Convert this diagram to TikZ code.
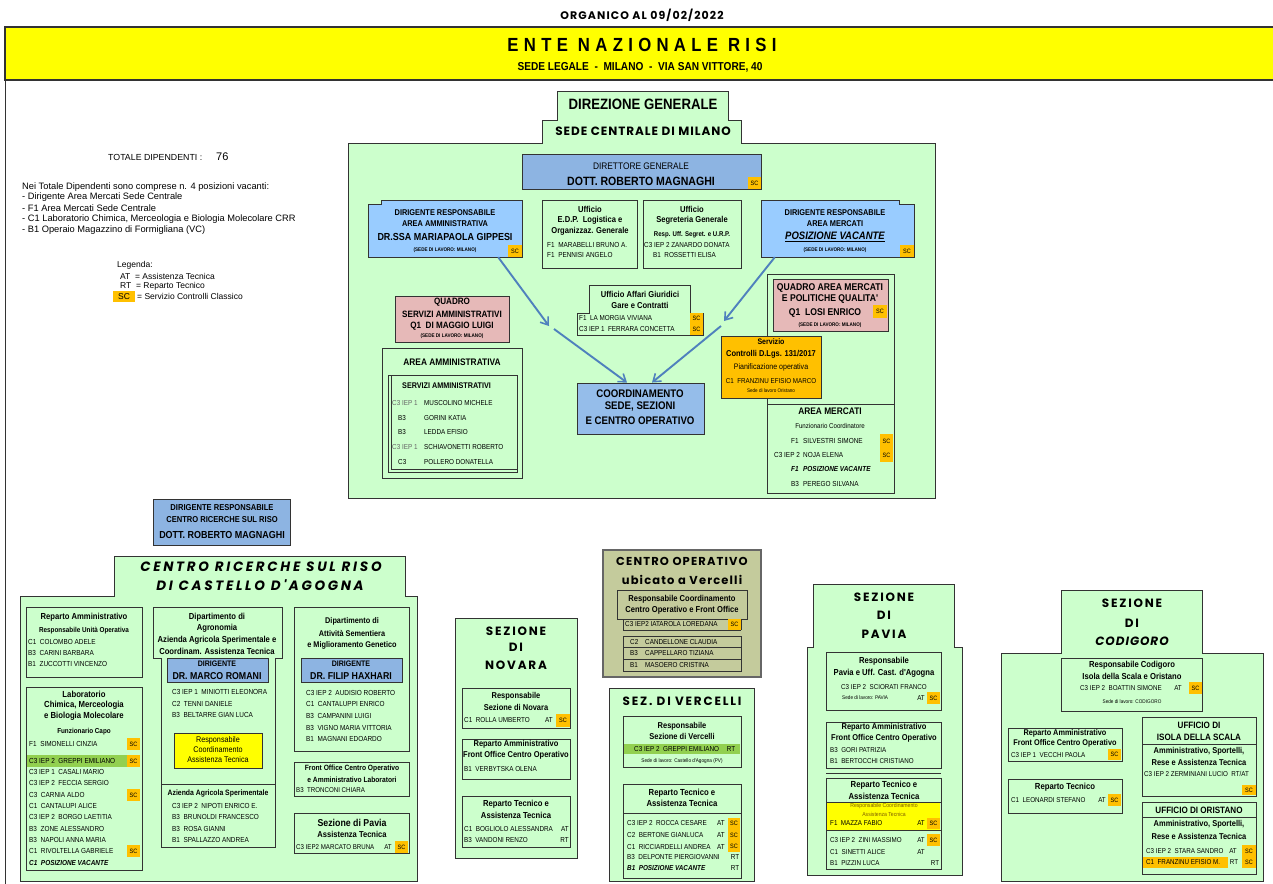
\documentclass[tikz,border=0pt]{standalone}
\usepackage{fontspec}
\setmainfont{Liberation Sans}
\newfontfamily\nar[FakeStretch=0.88]{Liberation Sans}
\newfontfamily\comic{Poppins}
\usetikzlibrary{fit,arrows.meta,calc}
\definecolor{gr}{HTML}{CCFFCC}
\definecolor{bd}{HTML}{333333}
\definecolor{lb}{HTML}{99CCFF}
\definecolor{db}{HTML}{8DB4E2}
\definecolor{cb}{HTML}{95BDEA}
\definecolor{pk}{HTML}{E6B9B8}
\definecolor{og}{HTML}{FFC000}
\definecolor{lg}{HTML}{92D050}
\definecolor{ol}{HTML}{C4CB9C}
\definecolor{ar}{HTML}{4F81BD}
\definecolor{yl}{HTML}{FFFF00}
\definecolor{gy}{HTML}{666666}
\definecolor{dy}{HTML}{806000}
\newcommand\fsz[1]{\fontsize{#1}{#1}\selectfont}
\newcounter{nn}
\newcommand\tx[3][]{\stepcounter{nn}\node[txt,#1] (t\arabic{nn}) at (#2) {#3};}
\newcommand\rw[3][]{\stepcounter{nn}\node[txt,anchor=west,#1] (t\arabic{nn}) at (#2) {#3};}
\newcommand\bx[4][]{\node[box,#1,fit={(#3) (#4)}] (#2) {};}
\newcommand\sct[2]{\stepcounter{nn}\fill[og] (#1) rectangle (#2);\node[txt,font=\nar\fsz{6.3}] (s\arabic{nn}) at ($(#1)!.5!(#2)$) {SC};}
\begin{document}
\begin{tikzpicture}[x=1pt,y=-1pt,
  txt/.style={inner sep=0,font=\nar\fsz{7}},
  fb/.style={font=\nar\bfseries\fsz{#1}},
  fr/.style={font=\nar\fsz{#1}},
  fi/.style={font=\nar\bfseries\itshape\fsz{#1}},
  fc/.style={font=\comic\bfseries\fsz{#1}\addfontfeature{LetterSpace=15}},
  box/.style={draw=bd,line width=0.9pt,inner sep=0,fill=gr},
  arr/.style={draw=ar,line width=1.9pt,-{Straight Barb[length=7pt,width=10pt,line width=1.6pt]}}]
\useasboundingbox (0,0) rectangle (1273,883);
\fill[white] (0,0) rectangle (1273,883);
% header
\tx[font=\comic\bfseries\fsz{11}\addfontfeature{LetterSpace=10}]{642,15}{ORGANICO AL 09/02/2022}
\draw[bd,line width=1pt] (5,80) -- (5,890);
\node[fit={(5,27) (1280,80)},fill=yl,draw=bd,line width=1.2pt,inner sep=0] (banner) {};
\tx[font=\nar\bfseries\fsz{19}\addfontfeature{LetterSpace=28}]{642,45}{ENTE NAZIONALE RISI}
\tx[fb=11.5]{640,67}{SEDE LEGALE~~-~~MILANO~~-~~VIA SAN VITTORE, 40}
% left notes
\rw[font=\fsz{8.8}]{108,157}{TOTALE DIPENDENTI :}
\rw[font=\fsz{11}]{216,157}{76}
\rw[font=\fsz{9.3}]{22,187}{Nei Totale Dipendenti sono comprese n. 4 posizioni vacanti:}
\rw[font=\fsz{9.3}]{22,197}{- Dirigente Area Mercati Sede Centrale}
\rw[font=\fsz{9.3}]{22,208}{- F1 Area Mercati Sede Centrale}
\rw[font=\fsz{9.3}]{22,219}{- C1 Laboratorio Chimica, Merceologia e Biologia Molecolare CRR}
\rw[font=\fsz{9.3}]{22,230}{- B1 Operaio Magazzino di Formigliana (VC)}
\rw[font=\fsz{8.5}]{117,265}{Legenda:}
\rw[font=\fsz{8.5}]{120,276}{AT~~= Assistenza Tecnica}
\rw[font=\fsz{8.5}]{120,286}{RT~~= Reparto Tecnico}
\fill[og] (113,291) rectangle (135,302);
\tx[font=\fsz{8.5}]{124,296.5}{SC}
\rw[font=\fsz{8.5}]{137,296}{= Servizio Controlli Classico}
% ===== DIREZIONE GENERALE =====
\draw[box] (348,498) -- (348,143) -- (542,143) -- (542,120) -- (557,120) -- (557,91) -- (728,91) -- (728,120) -- (741,120) -- (741,143) -- (935,143) -- (935,498) -- cycle;
\tx[fb=15]{643,104}{DIREZIONE GENERALE}
\tx[font=\comic\bfseries\fsz{12}\addfontfeature{LetterSpace=8}]{643,131}{SEDE CENTRALE DI MILANO}
\bx[fill=db]{dg}{522,154}{761,189}
\tx[fr=9.5]{641,166}{DIRETTORE GENERALE}
\tx[fb=12]{641,181}{DOTT. ROBERTO MAGNAGHI}
\sct{748,177}{761,189}
% dirigente area amm
\node[fit={(368,200) (522,257)},inner sep=0] (dirAmm) {};
\draw[fill=lb,draw=bd,line width=.9pt] (368,257) -- (368,204) -- (381,204) -- (381,200) -- (522,200) -- (522,257) -- cycle;
\tx[fb=8.4]{445,213}{DIRIGENTE RESPONSABILE}
\tx[fb=8.4]{445,224}{AREA AMMINISTRATIVA}
\tx[fb=10.2]{445,237}{DR.SSA MARIAPAOLA GIPPESI}
\tx[fb=5.2]{445,250}{(SEDE DI LAVORO: MILANO)}
\sct{508,245}{522,257}
% EDP
\bx{edp}{542,200}{637,268}
\tx[fb=8.6]{590,209}{Ufficio}
\tx[fb=8.6]{590,220}{E.D.P.~~Logistica e}
\tx[fb=8.6]{590,231}{Organizzaz. Generale}
\rw[fr=7.3]{547,245}{F1~~MARABELLI BRUNO A.}
\rw[fr=7.3]{547,255}{F1~~PENNISI ANGELO}
% Segreteria
\bx{seg}{643,200}{741,268}
\tx[fb=8.6]{692,209}{Ufficio}
\tx[fb=8.6]{692,220}{Segreteria Generale}
\tx[fb=6.9]{692,235}{Resp. Uff. Segret. e U.R.P.}
\rw[fr=7.2]{644,245}{C3 IEP 2 ZANARDO DONATA}
\rw[fr=7.2]{653,255}{B1~~ROSSETTI ELISA}
% dirigente area mercati
\node[fit={(761,200) (914,257)},inner sep=0] (dirMer) {};
\draw[fill=lb,draw=bd,line width=.9pt] (761,257) -- (761,200) -- (899,200) -- (899,204) -- (914,204) -- (914,257) -- cycle;
\tx[fb=8.4]{835,213}{DIRIGENTE RESPONSABILE}
\tx[fb=8.4]{835,224}{AREA MERCATI}
\tx[fi=10.8]{835,237}{\underline{POSIZIONE VACANTE}}
\tx[fb=5.2]{835,250}{(SEDE DI LAVORO: MILANO)}
\sct{900,245}{914,257}
% affari giuridici
\draw[box] (577,335) -- (577,313) -- (589,313) -- (589,285) -- (690,285) -- (690,313) -- (703,313) -- (703,335) -- cycle;
\node[fit={(577,285) (703,335)},inner sep=0] (aff) {};
\tx[fb=8.6]{640,294}{Ufficio Affari Giuridici}
\tx[fb=8.6]{640,305}{Gare e Contratti}
\rw[fr=7.2]{579,318}{F1~~LA MORGIA VIVIANA}
\rw[fr=7.2]{579,329}{C3 IEP 1~~FERRARA CONCETTA}
\sct{690,313}{703,324}
\sct{690,324}{703,335}
% quadro servizi amm
\bx[fill=pk]{qsa}{395,296}{509,342}
\tx[fb=9.2]{452,302}{QUADRO}
\tx[fb=9.2]{452,314}{SERVIZI AMMINISTRATIVI}
\tx[fb=9.2]{452,326}{Q1~~DI MAGGIO LUIGI}
\tx[fb=5.2]{452,336}{(SEDE DI LAVORO: MILANO)}
% area amministrativa
\bx{aam}{382,348}{522,478}
\tx[fb=9.5]{452,362}{AREA AMMINISTRATIVA}
\bx{sam}{388,375}{517,472}
\draw[bd,line width=.6pt] (391,375) -- (391,469) -- (517,469);
\rw[fb=8.2]{402,386}{SERVIZI AMMINISTRATIVI}
\rw[fr=7.2,text=gy]{392,403}{C3 IEP 1}
\rw[fr=7.2]{424,403}{MUSCOLINO MICHELE}
\rw[fr=7.2]{398,418}{B3}
\rw[fr=7.2]{424,418}{GORINI KATIA}
\rw[fr=7.2]{398,432}{B3}
\rw[fr=7.2]{424,432}{LEDDA EFISIO}
\rw[fr=7.2,text=gy]{392,447}{C3 IEP 1}
\rw[fr=7.2]{424,447}{SCHIAVONETTI ROBERTO}
\rw[fr=7.2]{398,462}{C3}
\rw[fr=7.2]{424,462}{POLLERO DONATELLA}
% coordinamento
\bx[fill=cb]{coord}{577,383}{704,434}
\tx[fb=11]{640,394}{COORDINAMENTO}
\tx[fb=11]{640,407}{SEDE, SEZIONI}
\tx[fb=11]{640,421}{E CENTRO OPERATIVO}
% arrows
\coordinate (m1) at (549,326);
\coordinate (m1b) at (554,329);
\coordinate (m2) at (724,321);
\coordinate (m2b) at (721,326);
\draw[arr] ([xshift=-24pt]dirAmm.south east) -- (m1);
\draw[arr] (m1b) -- ([xshift=-13.5pt]coord.north);
\draw[arr] ([xshift=14pt]dirMer.south west) -- (m2);
\draw[arr] (m2b) -- ([xshift=11.5pt]coord.north);
% area mercati group
\bx{amg}{767,274}{894,493}
\bx[fill=pk]{qam}{773,279}{888,331}
\tx[fb=9.8]{830,288}{QUADRO AREA MERCATI}
\tx[fb=9.8]{830,299}{E POLITICHE QUALITA'}
\tx[fb=9.8]{825,313}{Q1~~LOSI ENRICO}
\sct{873,305}{887,318}
\tx[fb=5.2]{830,325}{(SEDE DI LAVORO: MILANO)}
\bx[fill=og]{ctrl}{721,336}{821,398}
\tx[fb=8]{771,342}{Servizio}
\tx[fb=8.5]{771,354}{Controlli D.Lgs. 131/2017}
\tx[fr=8]{771,367}{Pianificazione operativa}
\tx[fr=7.1]{771,381}{C1~~FRANZINU EFISIO MARCO}
\tx[fr=5.2]{771,391}{Sede di lavoro Oristano}
\draw[bd,line width=.9pt] (767,404) -- (894,404);
\tx[fb=9.5]{830,411}{AREA MERCATI}
\tx[fr=7]{830,426}{Funzionario Coordinatore}
\rw[fr=7.3]{791,441}{F1}
\rw[fr=7.3]{803,441}{SILVESTRI SIMONE}
\sct{880,434}{893,448}
\rw[fr=7.3]{774,455}{C3 IEP 2}
\rw[fr=7.3]{803,455}{NOJA ELENA}
\sct{880,448}{893,462}
\rw[fi=7.3]{791,469}{F1}
\rw[fi=7.3]{803,469}{POSIZIONE VACANTE}
\rw[fr=7.3]{791,484}{B3}
\rw[fr=7.3]{803,484}{PEREGO SILVANA}
% ===== CENTRO RICERCHE =====
\bx[fill=db]{dcr}{153,499}{290,545}
\tx[fb=8.6]{222,508}{DIRIGENTE RESPONSABILE}
\tx[fb=8.6]{222,520}{CENTRO RICERCHE SUL RISO}
\tx[fb=10.2]{222,535}{DOTT. ROBERTO MAGNAGHI}
\draw[box] (20,881) -- (20,596) -- (114,596) -- (114,556) -- (405,556) -- (405,596) -- (417,596) -- (417,881) -- cycle;
\tx[font=\comic\bfseries\itshape\fsz{13.5}\addfontfeature{LetterSpace=20}]{261,567}{CENTRO RICERCHE SUL RISO}
\tx[font=\comic\bfseries\itshape\fsz{13.5}\addfontfeature{LetterSpace=20}]{260,585}{DI CASTELLO D'AGOGNA}
% reparto amm
\bx{cra}{26,607}{142,677}
\tx[fb=8.7]{84,617}{Reparto Amministrativo}
\tx[fb=7.2]{84,631}{Responsabile Unità Operativa}
\rw[fr=7.3]{28,642}{C1~~COLOMBO ADELE}
\rw[fr=7.3]{28,653}{B3~~CARINI BARBARA}
\rw[fr=7.3]{28,664}{B1~~ZUCCOTTI VINCENZO}
% laboratorio
\bx{lab}{26,687}{142,870}
\tx[fb=8.8]{84,694}{Laboratorio}
\tx[fb=8.8]{84,705}{Chimica, Merceologia}
\tx[fb=8.8]{84,716}{e Biologia Molecolare}
\tx[fb=7.2]{84,732}{Funzionario Capo}
\fill[lg] (27,755) rectangle (128,767);
\rw[fr=7.3]{29,744}{F1~~SIMONELLI CINZIA}
\rw[fr=7.3]{29,761}{C3 IEP 2~~GREPPI EMILIANO}
\rw[fr=7.3]{29,772}{C3 IEP 1~~CASALI MARIO}
\rw[fr=7.3]{29,783}{C3 IEP 2~~FECCIA SERGIO}
\rw[fr=7.3]{29,795}{C3~~CARNIA ALDO}
\rw[fr=7.3]{29,806}{C1~~CANTALUPI ALICE}
\rw[fr=7.3]{29,817}{C3 IEP 2~~BORGO LAETITIA}
\rw[fr=7.3]{29,829}{B3~~ZONE ALESSANDRO}
\rw[fr=7.3]{29,840}{B3~~NAPOLI ANNA MARIA}
\rw[fr=7.3]{29,851}{C1~~RIVOLTELLA GABRIELE}
\rw[fi=7.3]{29,863}{C1~~POSIZIONE VACANTE}
\sct{127,738}{140,750}
\sct{127,755}{140,767}
\sct{127,789}{140,801}
\sct{127,845}{140,857}
% agronomia
\draw[box] (161,784) -- (161,658) -- (153,658) -- (153,607) -- (282,607) -- (282,658) -- (275,658) -- (275,784) -- cycle;
\node[fit={(153,607) (282,784)},inner sep=0] (agr) {};
\tx[fb=8.7]{217,617}{Dipartimento di}
\tx[fb=8.7]{217,628}{Agronomia}
\tx[fb=8.7]{217,640}{Azienda Agricola Sperimentale e}
\tx[fb=8.7]{217,651}{Coordinam. Assistenza Tecnica}
\bx[fill=db]{dmr}{167,658}{268,682}
\tx[fb=8]{217,664}{DIRIGENTE}
\tx[fb=10]{217,676}{DR. MARCO ROMANI}
\rw[fr=7.3]{172,692}{C3 IEP 1~~MINIOTTI ELEONORA}
\rw[fr=7.3]{172,704}{C2~~TENNI DANIELE}
\rw[fr=7.3]{172,715}{B3~~BELTARRE GIAN LUCA}
\bx[fill=yl]{rca}{174,733}{262,768}
\tx[fr=8.2]{218,740}{Responsabile}
\tx[fr=8.2]{218,750}{Coordinamento}
\tx[fr=8.2]{218,760}{Assistenza Tecnica}
\bx{aas}{161,784}{275,847}
\tx[fb=7.8]{218,793}{Azienda Agricola Sperimentale}
\rw[fr=7.3]{172,806}{C3 IEP 2~~NIPOTI ENRICO E.}
\rw[fr=7.3]{172,817}{B3~~BRUNOLDI FRANCESCO}
\rw[fr=7.3]{172,829}{B3~~ROSA GIANNI}
\rw[fr=7.3]{172,840}{B1~~SPALLAZZO ANDREA}
% sementiera
\bx{sem}{294,607}{409,751}
\tx[fb=8.3]{352,621}{Dipartimento di}
\tx[fb=8.3]{352,633}{Attività Sementiera}
\tx[fb=8.3]{352,645}{e Miglioramento Genetico}
\bx[fill=db]{dfh}{301,658}{402,682}
\tx[fb=8]{351,664}{DIRIGENTE}
\tx[fb=10]{351,676}{DR. FILIP HAXHARI}
\rw[fr=7.3]{306,693}{C3 IEP 2~~AUDISIO ROBERTO}
\rw[fr=7.3]{306,704}{C1~~CANTALUPPI ENRICO}
\rw[fr=7.3]{306,716}{B3~~CAMPANINI LUIGI}
\rw[fr=7.3]{306,728}{B3~~VIGNO MARIA VITTORIA}
\rw[fr=7.3]{306,739}{B1~~MAGNANI EDOARDO}
\bx{fol}{294,762}{409,796}
\tx[fb=7.6]{352,769}{Front Office Centro Operativo}
\tx[fb=7.6]{352,780}{e Amministrativo Laboratori}
\rw[fr=7]{296,790}{B3~~TRONCONI CHIARA}
\bx{spv}{294,813}{409,853}
\tx[fb=10]{352,823}{Sezione di Pavia}
\tx[fb=8.6]{352,834}{Assistenza Tecnica}
\rw[fr=7]{296,847}{C3 IEP2 MARCATO BRUNA}
\tx[fr=7]{388,847}{AT}
\sct{395,841}{408,853}
% ===== NOVARA =====
\bx{nov}{455,618}{577,858}
\tx[fc=12]{516,631}{SEZIONE}
\tx[fc=12]{516,647}{DI}
\tx[fc=12]{516,665}{NOVARA}
\bx{nov1}{462,688}{570,728}
\tx[fb=8.5]{516,696}{Responsabile}
\tx[fb=8.5]{516,707}{Sezione di Novara}
\rw[fr=7.2]{464,720}{C1~~ROLLA UMBERTO}
\tx[fr=7.2]{549,720}{AT}
\sct{556,714}{570,727}
\bx{nov2}{462,739}{570,779}
\tx[fb=8.5]{516,744}{Reparto Amministrativo}
\tx[fb=8.5]{516,755}{Front Office Centro Operativo}
\rw[fr=7.2]{464,769}{B1~~VERBYTSKA OLENA}
\bx{nov3}{462,796}{570,847}
\tx[fb=8.7]{516,804}{Reparto Tecnico e}
\tx[fb=8.7]{516,815}{Assistenza Tecnica}
\rw[fr=7.2]{464,829}{C1~~BOGLIOLO ALESSANDRA}
\tx[fr=7.2,anchor=east]{569,829}{AT}
\rw[fr=7.2]{464,840}{B3~~VANDONI RENZO}
\tx[fr=7.2,anchor=east]{569,840}{RT}
% ===== CENTRO OPERATIVO =====
\bx[fill=ol,draw=gy,line width=1.6pt]{cop}{603,550}{761,677}
\tx[font=\comic\bfseries\fsz{11.5}\addfontfeature{LetterSpace=10}]{682,561}{CENTRO OPERATIVO}
\tx[font=\comic\bfseries\fsz{11.5}\addfontfeature{LetterSpace=10}]{682,580}{ubicato a Vercelli}
\draw[draw=bd,line width=.9pt,fill=ol] (623,630) -- (623,619) -- (617,619) -- (617,590) -- (747,590) -- (747,619) -- (741,619) -- (741,630);
\draw[bd,line width=.9pt] (617,619) -- (747,619);
\draw[bd,line width=.9pt] (623,630) -- (741,630);
\tx[fb=8.6]{682,599}{Responsabile Coordinamento}
\tx[fb=8.6]{682,610}{Centro Operativo e Front Office}
\rw[fr=7.2]{625,624}{C3 IEP2 IATAROLA LOREDANA}
\sct{728,619}{741,630}
\bx[fill=ol]{cor}{623,636}{741,671}
\draw[bd,line width=.9pt] (623,647) -- (741,647) (623,659) -- (741,659);
\rw[fr=7.2]{630,642}{C2}
\rw[fr=7.2]{645,642}{CANDELLONE CLAUDIA}
\rw[fr=7.2]{630,653}{B3}
\rw[fr=7.2]{645,653}{CAPPELLARO TIZIANA}
\rw[fr=7.2]{630,665}{B1}
\rw[fr=7.2]{645,665}{MASOERO CRISTINA}
% ===== VERCELLI =====
\bx{ver}{609,688}{754,881}
\tx[fc=12]{682,701}{SEZ. DI VERCELLI}
\bx{ver1}{623,716}{741,767}
\tx[fb=8.5]{682,726}{Responsabile}
\tx[fb=8.5]{682,736}{Sezione di Vercelli}
\fill[lg] (624,744) rectangle (740,754);
\rw[fr=7.2]{634,749}{C3 IEP 2~~GREPPI EMILIANO}
\tx[fr=7.2]{731,749}{RT}
\tx[fr=5.3]{682,761}{Sede di lavoro: Castello d'Agogna (PV)}
\bx{ver2}{623,784}{741,878}
\tx[fb=8.8]{682,793}{Reparto Tecnico e}
\tx[fb=8.8]{682,803}{Assistenza Tecnica}
\draw[bd,line width=.9pt] (623,813) -- (741,813);
\rw[fr=7.2]{627,823}{C3 IEP 2~~ROCCA CESARE}
\tx[fr=7.2]{721,823}{AT}
\rw[fr=7.2]{627,835}{C2~~BERTONE GIANLUCA}
\tx[fr=7.2]{721,835}{AT}
\rw[fr=7.2]{627,847}{C1~~RICCIARDELLI ANDREA}
\tx[fr=7.2]{721,847}{AT}
\rw[fr=7.2]{627,857}{B3~~DELPONTE PIERGIOVANNI}
\tx[fr=7.2]{735,857}{RT}
\rw[fi=7.2]{627,868}{B1~~POSIZIONE VACANTE}
\tx[fr=7.2]{735,868}{RT}
\sct{728,818}{740,829}
\sct{728,829}{740,841}
\sct{728,841}{740,852}
% ===== PAVIA =====
\draw[box] (807,875) -- (807,647) -- (813,647) -- (813,584) -- (954,584) -- (954,647) -- (962,647) -- (962,875) -- cycle;
\node[fit={(807,584) (962,875)},inner sep=0] (pav) {};
\tx[fc=12]{884,597}{SEZIONE}
\tx[fc=12]{884,615}{DI}
\tx[fc=12]{884,634}{PAVIA}
\bx{pav1}{826,652}{941,710}
\tx[fb=8.7]{884,661}{Responsabile}
\tx[fb=8.7]{884,673}{Pavia e Uff. Cast. d'Agogna}
\tx[fr=7.1]{884,687}{C3 IEP 2~~SCIORATI FRANCO}
\rw[fr=5.3]{842,698}{Sede di lavoro: PAVIA}
\tx[fr=7.1]{921,698}{AT}
\sct{927,692}{940,704}
\bx{pav2}{826,722}{941,768}
\tx[fb=8.5]{884,727}{Reparto Amministrativo}
\tx[fb=8.5]{884,738}{Front Office Centro Operativo}
\rw[fr=7.1]{830,750}{B3~~GORI PATRIZIA}
\rw[fr=7.1]{830,761}{B1~~BERTOCCHI CRISTIANO}
\draw[bd,line width=.9pt] (826,773) -- (941,773);
\bx{pav3}{826,778}{941,869}
\tx[fb=8.8]{884,785}{Reparto Tecnico e}
\tx[fb=8.8]{884,796}{Assistenza Tecnica}
\fill[yl] (827,802) rectangle (940,830);
\draw[bd,line width=.9pt] (826,802) -- (941,802) (826,830) -- (941,830);
\tx[fr=5.8,text=dy]{884,806}{Responsabile Coordinamento}
\tx[fr=5.8,text=dy]{884,814}{Assistenza Tecnica}
\rw[fr=7.1]{830,823}{F1~~MAZZA FABIO}
\tx[fr=7.1]{921,823}{AT}
\sct{927,818}{940,829}
\rw[fr=7.1]{830,840}{C3 IEP 2~~ZINI MASSIMO}
\tx[fr=7.1]{921,840}{AT}
\sct{927,834}{940,846}
\rw[fr=7.1]{830,852}{C1~~SINETTI ALICE}
\tx[fr=7.1]{921,852}{AT}
\rw[fr=7.1]{830,863}{B1~~PIZZIN LUCA}
\tx[fr=7.1]{935,863}{RT}
% ===== CODIGORO =====
\draw[box] (1001,881) -- (1001,653) -- (1061,653) -- (1061,590) -- (1202,590) -- (1202,653) -- (1263,653) -- (1263,881) -- cycle;
\node[fit={(1001,590) (1263,881)},inner sep=0] (cod) {};
\tx[fc=12]{1132,603}{SEZIONE}
\tx[fc=12]{1132,623}{DI}
\tx[font=\comic\bfseries\itshape\fsz{12}\addfontfeature{LetterSpace=8}]{1132,641}{CODIGORO}
\bx{cod1}{1061,658}{1202,711}
\tx[fb=8.7]{1132,665}{Responsabile Codigoro}
\tx[fb=8.7]{1132,676}{Isola della Scala e Oristano}
\rw[fr=7.1]{1080,688}{C3 IEP 2~~BOATTIN SIMONE}
\tx[fr=7.1]{1178,688}{AT}
\sct{1189,682}{1202,694}
\tx[fr=5.3]{1132,702}{Sede di lavoro: CODIGORO}
\bx{cod2}{1008,728}{1122,761}
\tx[fb=8.3]{1065,733}{Reparto Amministrativo}
\tx[fb=8.3]{1065,743}{Front Office Centro Operativo}
\rw[fr=7.1]{1011,755}{C3 IEP 1~~VECCHI PAOLA}
\sct{1108,749}{1121,760}
\bx{cod3}{1008,779}{1122,813}
\tx[fb=8.8]{1065,787}{Reparto Tecnico}
\rw[fr=7.1]{1011,800}{C1~~LEONARDI STEFANO}
\tx[fr=7.1]{1102,800}{AT}
\sct{1108,794}{1121,806}
\bx{isl}{1142,717}{1256,796}
\tx[fb=9.2]{1199,725}{UFFICIO DI}
\tx[fb=9.2]{1199,737}{ISOLA DELLA SCALA}
\draw[bd,line width=.9pt] (1142,744) -- (1256,744);
\tx[fb=8.5]{1199,751}{Amministrativo, Sportelli,}
\tx[fb=8.5]{1199,762}{Rese e Assistenza Tecnica}
\rw[fr=7.1]{1144,774}{C3 IEP 2 ZERMINIANI LUCIO~~RT/AT}
\sct{1242,785}{1256,795}
\bx{ori}{1142,802}{1256,874}
\tx[fb=9.2]{1199,810}{UFFICIO DI ORISTANO}
\draw[bd,line width=.9pt] (1142,817) -- (1256,817);
\tx[fb=8.5]{1199,824}{Amministrativo, Sportelli,}
\tx[fb=8.5]{1199,836}{Rese e Assistenza Tecnica}
\rw[fr=7.1]{1146,851}{C3 IEP 2~~STARA SANDRO}
\tx[fr=7.1]{1233,851}{AT}
\sct{1242,845}{1256,857}
\fill[og] (1143,857) rectangle (1228,868);
\rw[fr=7.1]{1146,862}{C1~~FRANZINU EFISIO M.}
\tx[fr=7.1]{1234,862}{RT}
\sct{1242,857}{1256,868}
\end{tikzpicture}
\end{document}
